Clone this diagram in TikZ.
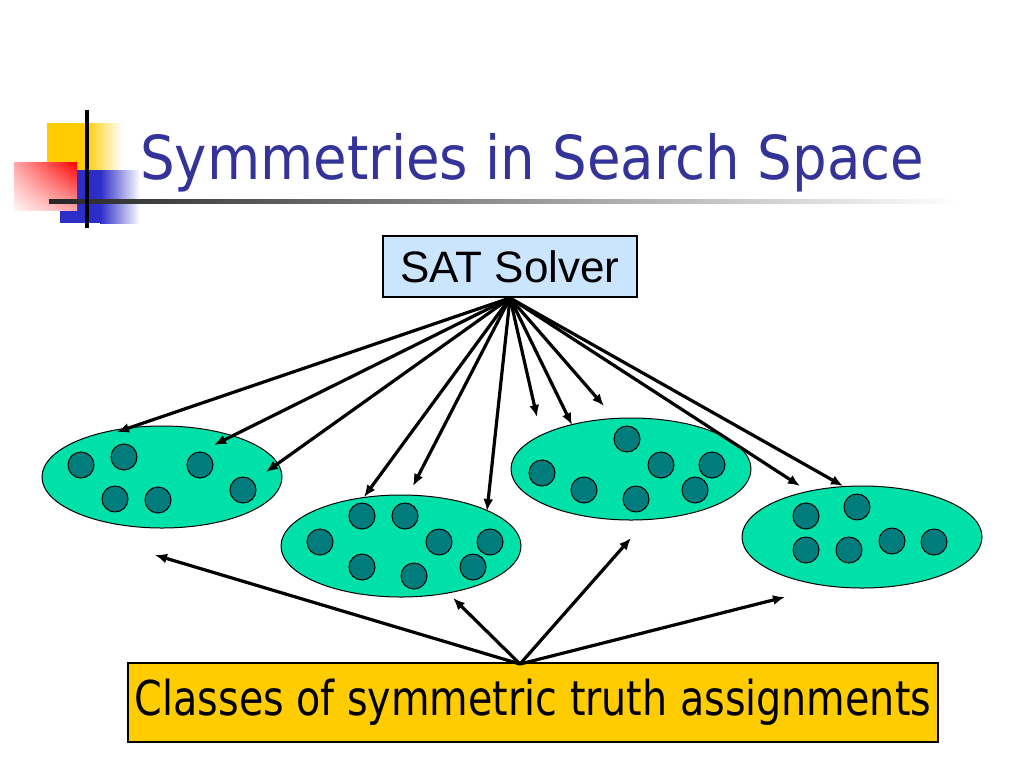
\documentclass[tikz,border=0pt]{standalone}
\usepackage{fontspec}
\setmainfont{Liberation Sans}
\newfontfamily\tahoma[FakeStretch=0.9]{DejaVu Sans}
\newfontfamily\tahomanarrow[FakeStretch=0.825]{DejaVu Sans}
\usetikzlibrary{shapes.geometric,arrows.meta,shadings}

\definecolor{titleblue}{RGB}{51,51,153}
\definecolor{solverblue}{RGB}{204,229,255}
\definecolor{classgold}{RGB}{255,204,0}
\definecolor{groupgreen}{RGB}{0,225,170}
\definecolor{dotteal}{RGB}{0,124,124}
\definecolor{barblue}{RGB}{45,45,200}

\tikzset{
  group/.style={ellipse,draw,line width=0.75pt,fill=groupgreen,
    minimum width=180pt,minimum height=76.5pt,inner sep=0pt},
  dot/.style={circle,draw,line width=0.75pt,fill=dotteal,
    minimum size=19.5pt,inner sep=0pt},
  link/.style={line width=2.4pt,-{Latex[length=9pt,width=7.5pt]}},
}

\begin{document}
\begin{tikzpicture}[x=0.75pt,y=-0.75pt]
  \useasboundingbox (0,0) rectangle (1024,768);

  % Corner squares
  \fill[classgold] (47,123) rectangle (85,170);
  \shade[left color=classgold,right color=white] (85,123) rectangle (122,170);
  \fill[barblue] (60,170) rectangle (100,223);
  \shade[left color=barblue,right color=white] (100,170) rectangle (140,223);
  \shade[upper right=red,upper left=red!35,lower left=red!4,lower right=red!35]
    (14,162) rectangle (77,210);

  % Rules
  \shade[left color=black!85,right color=white] (49,199) rectangle (960,203);
  \draw[line width=3pt] (87,110) -- (87,228);

  % Title
  \node[anchor=base west,inner sep=0pt,text=titleblue,
    font=\tahoma\fontsize{45.5}{50}\selectfont] (title) at (140,179)
    {Symmetries in Search Space};

  % Boxes
  \node[draw,line width=1.5pt,fill=solverblue,minimum width=190.5pt,
    minimum height=45.75pt,font=\fontsize{33}{36}\selectfont] (sat) at (510,266.5)
    {SAT Solver};
  \node[draw,line width=1.5pt,fill=classgold,minimum width=608pt,inner xsep=0pt,
    minimum height=59.25pt,font=\tahomanarrow\fontsize{36}{40}\selectfont] (classes) at (533,702.5)
    {Classes of symmetric truth assignments};

  % Groups
  \node[group] (g1) at (162,477) {};
  \node[group] (g2) at (401,546) {};
  \node[group] (g3) at (631,469) {};
  \node[group] (g4) at (862,537) {};

  % Assignments
  \foreach \x/\y [count=\i] in {81/465,124/457,200/465,243/490,115/499,158/500,
      362/516,405/516,320/542,439/542,490/542,362/567,414/576,473/567,
      627/439,542/473,661/465,712/465,584/490,636/499,695/490,
      806/516,857/507,806/550,849/550,892/541,934/542}
    \node[dot] (d\i) at (\x,\y) {};

  % Arrow ends
  \coordinate (t1) at (117,432);
  \coordinate (t2) at (214,445);
  \coordinate (t3) at (266,472);
  \coordinate (t4) at (364,497);
  \coordinate (t5) at (413,486);
  \coordinate (t6) at (487,511);
  \coordinate (t7) at (537,417);
  \coordinate (t8) at (572,425);
  \coordinate (t9) at (604,406);
  \coordinate (t10) at (800,486);
  \coordinate (t11) at (843,486);
  \coordinate (hub) at (520,664);
  \coordinate (b1) at (155,555);
  \coordinate (b2) at (453,598);
  \coordinate (b3) at (631,538);
  \coordinate (b4) at (785,597);

  % Arrows
  \foreach \i in {1,...,11}
    \draw[link] (sat.south) -- (t\i);
  \foreach \i in {1,...,4}
    \draw[link] (hub) -- (b\i);
\end{tikzpicture}
\end{document}
